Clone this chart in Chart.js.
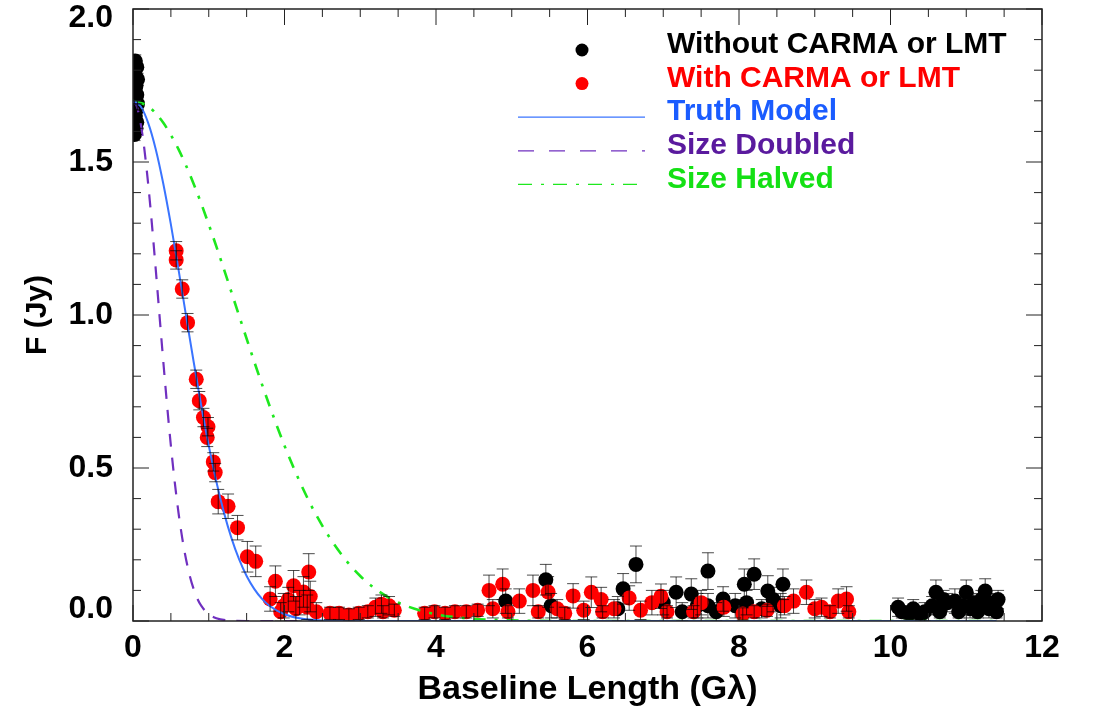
<!DOCTYPE html>
<html>
<head>
<meta charset="utf-8">
<script src="https://cdn.jsdelivr.net/npm/chart.js@4.4.1/dist/chart.umd.min.js"></script>
<style>
    html, body { margin: 0; padding: 0; background: #fff; }
</style>
</head>
<body>
<canvas id="visChart" width="1104" height="719"></canvas>
<script>
// tick labels
const xTicks = [0, 2, 4, 6, 8, 10, 12];
const yTicks = [0.0, 0.5, 1.0, 1.5, 2.0];

// points without CARMA or LMT (baseline in G-lambda, flux in Jy, 1-sigma error)
const blackX = [0.03, 0.05, 0.02, 0.06, 0.04, 0.03, 0.05, 0.02, 0.06, 0.04, 0.03, 0.05, 0.04, 0.02,
    4.92, 5.45, 5.52, 6.40, 6.47, 6.64, 7.00, 7.17, 7.25, 7.37, 7.45, 7.59, 7.59, 7.70, 7.79, 7.95, 8.07, 8.10, 8.20, 8.30, 8.38, 8.45, 8.55, 8.58,
    10.10, 10.15, 10.25, 10.30, 10.40, 10.45, 10.55, 10.60, 10.65, 10.70, 10.75, 10.85, 10.90, 10.95, 11.00, 11.05,
    11.10, 11.15, 11.20, 11.25, 11.30, 11.35, 11.40, 11.42];
const blackY = [1.83, 1.81, 1.79, 1.77, 1.75, 1.74, 1.72, 1.71, 1.69, 1.67, 1.65, 1.63, 1.61, 1.59,
    0.065, 0.135, 0.050, 0.040, 0.105, 0.185, 0.060, 0.094, 0.030, 0.088, 0.050, 0.163, 0.050, 0.030, 0.072, 0.050, 0.120, 0.060, 0.153, 0.040, 0.098, 0.070, 0.050, 0.120,
    0.045, 0.030, 0.025, 0.040, 0.020, 0.030, 0.050, 0.094, 0.030, 0.070, 0.060, 0.065, 0.030, 0.050, 0.094, 0.040,
    0.060, 0.030, 0.070, 0.098, 0.040, 0.060, 0.030, 0.070];
const blackErr = [0.02, 0.02, 0.02, 0.02, 0.02, 0.02, 0.02, 0.02, 0.02, 0.02, 0.02, 0.02, 0.02, 0.02,
    0.04, 0.05, 0.04, 0.04, 0.05, 0.06, 0.04, 0.05, 0.03, 0.05, 0.04, 0.06, 0.04, 0.03, 0.04, 0.04, 0.05, 0.04, 0.05, 0.03, 0.05, 0.04, 0.04, 0.05,
    0.03, 0.02, 0.02, 0.03, 0.02, 0.03, 0.03, 0.04, 0.02, 0.03, 0.03, 0.04, 0.02, 0.03, 0.04, 0.03,
    0.03, 0.02, 0.03, 0.04, 0.03, 0.03, 0.02, 0.03];

// points with CARMA or LMT
const redX = [0.57, 0.57, 0.65, 0.72, 0.835, 0.875, 0.93, 0.99, 0.98, 1.06, 1.085, 1.125, 1.255, 1.38,
    1.51, 1.62, 1.88, 2.32, 2.12, 2.25, 2.34, 1.81, 1.99, 2.15, 1.95, 2.20, 2.05, 2.30, 2.42,
    2.60, 2.72, 2.85, 2.98, 3.10, 3.20, 3.28, 3.38, 3.45, 3.30, 3.85, 3.98, 4.12, 4.25, 4.40, 4.55,
    4.70, 4.88, 4.75, 4.95, 5.10, 5.28, 5.35, 5.48, 5.60, 5.70, 5.81, 5.95, 6.05, 6.18, 6.20, 6.35,
    6.55, 6.70, 6.85, 6.97, 7.05, 7.40, 7.50, 7.80, 8.05, 8.20, 8.37, 8.60, 8.72, 8.89, 9.00, 9.09,
    9.20, 9.31, 9.42, 9.45];
const redY = [1.21, 1.18, 1.085, 0.975, 0.79, 0.72, 0.665, 0.635, 0.60, 0.52, 0.485, 0.39, 0.375, 0.305,
    0.21, 0.195, 0.13, 0.16, 0.115, 0.095, 0.08, 0.072, 0.05, 0.04, 0.03, 0.06, 0.07, 0.045, 0.03,
    0.025, 0.025, 0.02, 0.025, 0.03, 0.045, 0.055, 0.05, 0.035, 0.03, 0.025, 0.03, 0.025, 0.03, 0.03, 0.035,
    0.10, 0.12, 0.04, 0.03, 0.065, 0.10, 0.03, 0.095, 0.04, 0.025, 0.082, 0.035, 0.094, 0.07, 0.03, 0.04,
    0.075, 0.035, 0.06, 0.081, 0.03, 0.03, 0.06, 0.045, 0.023, 0.03, 0.035, 0.05, 0.065, 0.094, 0.04, 0.045,
    0.03, 0.065, 0.072, 0.03];
const redErr = [0.03, 0.03, 0.03, 0.03, 0.03, 0.03, 0.03, 0.03, 0.03, 0.03, 0.03, 0.04, 0.04, 0.04,
    0.05, 0.05, 0.05, 0.06, 0.05, 0.05, 0.05, 0.04, 0.04, 0.04, 0.03, 0.04, 0.04, 0.04, 0.03,
    0.02, 0.02, 0.02, 0.02, 0.02, 0.03, 0.03, 0.03, 0.02, 0.02, 0.02, 0.02, 0.02, 0.02, 0.02, 0.02,
    0.05, 0.05, 0.03, 0.02, 0.04, 0.05, 0.02, 0.05, 0.03, 0.02, 0.04, 0.03, 0.05, 0.04, 0.02, 0.03,
    0.04, 0.03, 0.04, 0.04, 0.02, 0.02, 0.04, 0.03, 0.02, 0.02, 0.02, 0.03, 0.04, 0.04, 0.03, 0.03,
    0.02, 0.04, 0.04, 0.02];

// model curves
const truthX = [0, 0.1, 0.2, 0.3, 0.4, 0.5, 0.6, 0.7, 0.8, 0.9, 1.0, 1.1, 1.2, 1.3, 1.4, 1.5, 1.6, 1.7, 1.8, 2.0, 2.2, 2.5, 3.0, 11.4];
const truthY = [1.700, 1.682, 1.628, 1.542, 1.429, 1.296, 1.150, 0.998, 0.848, 0.705, 0.573, 0.456, 0.355, 0.271, 0.202, 0.147, 0.105, 0.073, 0.050, 0.022, 0.009, 0.002, 0, 0];
const doubledX = [0, 0.05, 0.1, 0.15, 0.2, 0.25, 0.3, 0.35, 0.4, 0.45, 0.5, 0.55, 0.6, 0.65, 0.7, 0.75, 0.8, 0.85, 0.9, 1.0, 1.1, 1.25, 1.5, 11.4];
const doubledY = [1.700, 1.682, 1.628, 1.542, 1.429, 1.296, 1.150, 0.998, 0.848, 0.705, 0.573, 0.456, 0.355, 0.271, 0.202, 0.147, 0.105, 0.073, 0.050, 0.022, 0.009, 0.002, 0, 0];
const halvedX = [0, 0.2, 0.4, 0.6, 0.8, 1.0, 1.2, 1.4, 1.6, 1.8, 2.0, 2.2, 2.4, 2.6, 2.8, 3.0, 3.2, 3.4, 3.6, 4.0, 4.4, 5.0, 6.0, 11.4];
const halvedY = [1.700, 1.682, 1.628, 1.542, 1.429, 1.296, 1.150, 0.998, 0.848, 0.705, 0.573, 0.456, 0.355, 0.271, 0.202, 0.147, 0.105, 0.073, 0.050, 0.022, 0.009, 0.002, 0, 0];

const FONT = 'Liberation Sans, Arial, Helvetica, sans-serif';

function toPoints(xs, ys) {
    return xs.map((x, i) => ({ x: x, y: ys[i] }));
}

/* error bars drawn from the dataset's errors array */
const errorBars = {
    id: 'errorBars',
    afterDatasetsDraw(chart) {
        const ctx = chart.ctx;
        const yScale = chart.scales.y;
        const area = chart.chartArea;
        ctx.save();
        ctx.beginPath();
        ctx.rect(area.left, area.top, area.right - area.left, area.bottom - area.top);
        ctx.clip();
        ctx.strokeStyle = 'rgba(0,0,0,0.7)';
        ctx.lineWidth = 1;
        chart.data.datasets.forEach((ds, di) => {
            if (!ds.errors) return;
            const meta = chart.getDatasetMeta(di);
            meta.data.forEach((pt, i) => {
                const v = ds.data[i].y;
                const e = ds.errors[i];
                const top = yScale.getPixelForValue(v + e);
                const bot = yScale.getPixelForValue(v - e);
                ctx.beginPath();
                ctx.moveTo(pt.x, top);
                ctx.lineTo(pt.x, bot);
                ctx.moveTo(pt.x - 6, top);
                ctx.lineTo(pt.x + 6, top);
                ctx.moveTo(pt.x - 6, bot);
                ctx.lineTo(pt.x + 6, bot);
                ctx.stroke();
            });
        });
        ctx.restore();
    }
};

/* box with inward ticks on all four sides */
const frameTicks = {
    id: 'frameTicks',
    afterDraw(chart) {
        const ctx = chart.ctx;
        const a = chart.chartArea;
        const xs = chart.scales.x, ys = chart.scales.y;
        ctx.save();
        ctx.strokeStyle = '#222';
        ctx.lineWidth = 1.5;
        ctx.strokeRect(a.left, a.top, a.right - a.left, a.bottom - a.top);
        ctx.lineWidth = 1;
        for (let v = xs.min; v <= xs.max + 1e-9; v += 0.5) {
            const px = xs.getPixelForValue(v);
            const len = Math.abs(v % 2) < 1e-9 ? 16 : 8;
            ctx.beginPath();
            ctx.moveTo(px, a.bottom); ctx.lineTo(px, a.bottom - len);
            ctx.moveTo(px, a.top); ctx.lineTo(px, a.top + len);
            ctx.stroke();
        }
        for (let k = 0; k <= 20; k++) {
            const py = ys.getPixelForValue(k / 10);
            const len = k % 5 === 0 ? 16 : 8;
            ctx.beginPath();
            ctx.moveTo(a.left, py); ctx.lineTo(a.left + len, py);
            ctx.moveTo(a.right, py); ctx.lineTo(a.right - len, py);
            ctx.stroke();
        }
        ctx.restore();
    }
};

/* pull the end labels of the y axis inside the frame, as in the original plot */
const edgeLabels = {
    id: 'edgeLabels',
    beforeDraw(chart) {
        const s = chart.scales.y;
        if (s._edgeShifted || !s.getLabelItems) return;
        const items = s.getLabelItems();
        if (!items.length) return;
        items[0].options.translation[1] -= 12;
        items[items.length - 1].options.translation[1] += 9;
        s._edgeShifted = true;
    }
};

/* legend in the upper right, text coloured like its series */
const insideLegend = {
    id: 'insideLegend',
    afterDraw(chart) {
        const ctx = chart.ctx;
        const order = ['Without CARMA or LMT', 'With CARMA or LMT', 'Truth Model', 'Size Doubled', 'Size Halved'];
        ctx.save();
        ctx.font = 'bold 30px ' + FONT;
        ctx.textBaseline = 'middle';
        order.forEach((label, i) => {
            const ds = chart.data.datasets.find(d => d.label === label);
            const y = 45 + i * 33.6;
            if (ds.showLine) {
                ctx.strokeStyle = ds.borderColor;
                ctx.lineWidth = 1.2;
                ctx.setLineDash(ds.legendDash || []);
                ctx.beginPath();
                ctx.moveTo(518, y + 5);
                ctx.lineTo(645, y + 5);
                ctx.stroke();
                ctx.setLineDash([]);
            } else {
                ctx.fillStyle = ds.backgroundColor;
                ctx.beginPath();
                ctx.arc(582, y + 5, 6.5, 0, Math.PI * 2);
                ctx.fill();
            }
            ctx.fillStyle = ds.textColor;
            ctx.fillText(label, 667, y);
        });
        ctx.restore();
    }
};

const ctx = document.getElementById('visChart').getContext('2d');
new Chart(ctx, {
    type: 'scatter',
    data: {
        datasets: [
            {
                label: 'Truth Model',
                data: toPoints(truthX, truthY),
                showLine: true,
                pointRadius: 0,
                borderColor: '#3a74ff',
                textColor: '#1a5cff',
                borderWidth: 2,
                cubicInterpolationMode: 'monotone',
                order: 0
            },
            {
                label: 'Size Doubled',
                data: toPoints(doubledX, doubledY),
                showLine: true,
                pointRadius: 0,
                borderColor: '#7030c0',
                textColor: '#5a1a9e',
                borderWidth: 2.2,
                borderDash: [13, 11],
                legendDash: [16, 15],
                cubicInterpolationMode: 'monotone',
                order: 0
            },
            {
                label: 'Size Halved',
                data: toPoints(halvedX, halvedY),
                showLine: true,
                pointRadius: 0,
                borderColor: '#1ee81e',
                textColor: '#14e014',
                borderWidth: 2.6,
                borderDash: [12, 9, 3, 9],
                legendDash: [14, 9, 3, 9],
                cubicInterpolationMode: 'monotone',
                order: 0
            },
            {
                label: 'Without CARMA or LMT',
                data: toPoints(blackX, blackY),
                errors: blackErr,
                showLine: false,
                pointRadius: 7.5,
                borderWidth: 0,
                backgroundColor: '#000000',
                textColor: '#000000',
                clip: 0,
                order: 2
            },
            {
                label: 'With CARMA or LMT',
                data: toPoints(redX, redY),
                errors: redErr,
                showLine: false,
                pointRadius: 7.5,
                borderWidth: 0,
                backgroundColor: '#ff0000',
                textColor: '#ff0000',
                clip: 0,
                order: 1
            }
        ]
    },
    options: {
        responsive: false,
        animation: false,
        layout: { padding: { left: 0, top: 9, right: 62, bottom: 0 } },
        plugins: {
            legend: { display: false },
            tooltip: { enabled: false }
        },
        scales: {
            x: {
                type: 'linear',
                min: xTicks[0],
                max: xTicks[xTicks.length - 1],
                afterBuildTicks: s => { s.ticks = xTicks.map(v => ({ value: v })); },
                afterFit: s => { s.height = 98; s.paddingLeft = 0; s.paddingRight = 0; },
                grid: { display: false, drawTicks: false },
                border: { display: false },
                ticks: {
                    color: '#000',
                    padding: 8,
                    maxRotation: 0,
                    autoSkip: false,
                    font: { family: FONT, size: 32, weight: 'bold' },
                    callback: v => String(v)
                },
                title: {
                    display: true,
                    text: 'Baseline Length (Gλ)',
                    color: '#000',
                    padding: { top: 0, bottom: 9 },
                    font: { family: FONT, size: 34, weight: 'bold' }
                }
            },
            y: {
                type: 'linear',
                min: yTicks[0],
                max: yTicks[yTicks.length - 1],
                afterBuildTicks: s => { s.ticks = yTicks.map(v => ({ value: v })); },
                afterFit: s => { s.width = 133; s.paddingTop = 0; s.paddingBottom = 0; },
                grid: { display: false, drawTicks: false },
                border: { display: false },
                ticks: {
                    color: '#000',
                    padding: 20,
                    autoSkip: false,
                    font: { family: FONT, size: 32, weight: 'bold' },
                    callback: v => v.toFixed(1)
                },
                title: {
                    display: true,
                    text: 'F (Jy)',
                    color: '#000',
                    padding: { top: 20, bottom: 0 },
                    font: { family: FONT, size: 30, weight: 'bold' }
                }
            }
        }
    },
    plugins: [errorBars, frameTicks, edgeLabels, insideLegend]
});
</script>
</body>
</html>
